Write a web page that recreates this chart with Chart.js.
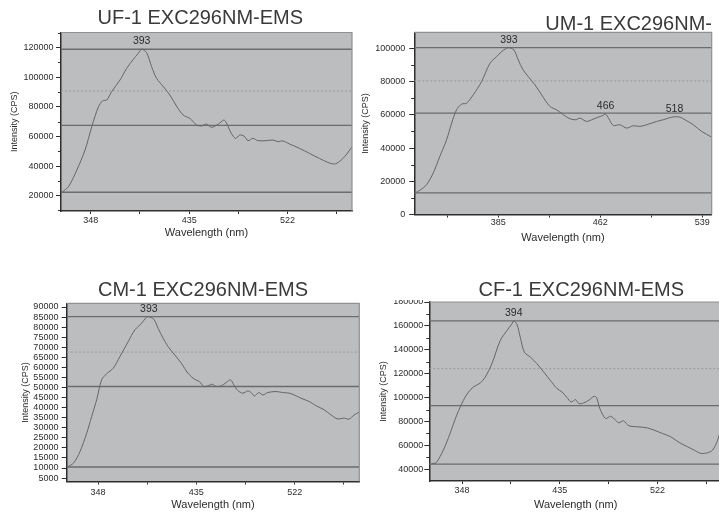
<!DOCTYPE html>
<html>
<head>
<meta charset="utf-8">
<script src="https://cdn.jsdelivr.net/npm/chart.js@4.4.1/dist/chart.umd.min.js"></script>
<style>
  html, body { margin: 0; padding: 0; background: #ffffff; overflow: hidden; }
  body { width: 719px; height: 512px; position: relative; }
  .panel { position: absolute; }
  canvas { display: block; }
</style>
</head>
<body>
<div class="panel" style="left:0px;top:0px"><canvas id="uf1" width="360" height="256"></canvas></div>
<div class="panel" style="left:360px;top:0px"><canvas id="um1" width="359" height="256"></canvas></div>
<div class="panel" style="left:0px;top:256px"><canvas id="cm1" width="360" height="256"></canvas></div>
<div class="panel" style="left:360px;top:256px"><canvas id="cf1" width="362" height="256"></canvas></div>
<script>
// ---- Emission spectra, excitation 296 nm ----
const uf1Title = 'UF-1 EXC296NM-EMS';
const uf1Wavelength = [322.4, 328.3, 335.7, 343, 348.9, 354.8, 358.6, 362.1, 366.5, 373.9, 379.7, 385.6, 390, 393, 397.4, 401.8, 406.2, 412.1, 418, 423.8, 429.7, 435.6, 441.5, 445.9, 450.3, 454.7, 460.6, 465.6, 467.9, 472.3, 476.1, 479.7, 483.5, 487, 491.4, 495.8, 503.2, 509.1, 513.5, 517.9, 523.8, 532.6, 541.4, 550.2, 557.6, 563.4, 567.8, 573.7, 579];
const uf1Intensity = [22300, 26100, 37350, 50900, 66600, 80100, 84200, 84600, 90300, 98200, 106000, 112100, 116200, 119000, 116600, 107200, 99300, 93700, 88000, 80600, 74500, 72300, 67800, 67100, 68400, 66200, 68200, 71100, 69300, 62100, 58700, 61000, 60300, 57200, 58700, 57200, 57200, 57600, 56500, 57000, 54900, 52000, 48600, 45200, 42500, 41400, 43000, 47500, 53100];
const uf1Peaks = [393];
const uf1SolidLevels = [119000, 67500, 22300];
const uf1DottedLevels = [90800];

const um1Title = 'UM-1 EXC296NM-';
const um1Wavelength = [322.1, 325.9, 330.9, 335.9, 340.9, 346, 349.8, 353.5, 357.3, 361.1, 366.1, 372.4, 378.7, 383.7, 387.5, 391.3, 393, 396.8, 400.1, 403.4, 407.6, 412.7, 417.7, 424, 429, 434.1, 439.1, 443.6, 446.6, 451.7, 456.7, 460.5, 463.5, 466, 468.5, 471.8, 476.8, 481.9, 486.9, 491.9, 497, 504.5, 509.5, 513.5, 518, 522.1, 525.9, 532.2, 538.5, 546];
const um1Intensity = [13000, 14600, 18000, 25000, 35000, 45000, 55000, 63000, 66400, 67000, 72000, 80000, 91000, 95000, 98000, 100000, 100400, 99000, 93000, 87400, 83000, 78000, 72000, 65000, 63000, 60000, 57600, 57000, 58000, 56000, 57400, 58600, 59400, 60400, 57600, 53600, 54000, 52000, 53400, 53000, 54000, 56000, 57000, 58000, 58800, 58600, 57000, 54000, 50000, 46600];
const um1Peaks = [393, 466, 518];
const um1SolidLevels = [100400, 61000, 13000];
const um1DottedLevels = [80400];

const cm1Title = 'CM-1 EXC296NM-EMS';
const cm1Wavelength = [320.8, 326.3, 332.1, 338, 342.4, 346.8, 351.2, 355.6, 361.5, 367.4, 374.7, 380.6, 386.5, 390.9, 393, 397.4, 401.2, 405.6, 410, 415.9, 421.8, 427.6, 433.5, 437.9, 441.5, 445.3, 449.1, 452.6, 457, 461.5, 465.3, 468.2, 471.7, 476.1, 480.6, 483.5, 486.4, 490.3, 493.8, 498.2, 505.5, 511.4, 517.3, 521.7, 527.6, 535, 540.8, 548.2, 554.1, 560, 565.8, 570.2, 574.6, 579];
const cm1Intensity = [10500, 12400, 18200, 27300, 35600, 43900, 53800, 56800, 59600, 65400, 72800, 78600, 81900, 84900, 85200, 83900, 79400, 74500, 70300, 66200, 62000, 57100, 54100, 52900, 50500, 50800, 51600, 50500, 50800, 52500, 53800, 51300, 48500, 47200, 48300, 47500, 45800, 47500, 46300, 47500, 48000, 47500, 47200, 46300, 44700, 43000, 41000, 38900, 36400, 34400, 34800, 34300, 36400, 37700];
const cm1Peaks = [393];
const cm1SolidLevels = [85200, 50500, 10500];
const cm1DottedLevels = [67600];

const cf1Title = 'CF-1 EXC296NM-EMS';
const cf1Wavelength = [320.9, 324.8, 331.3, 337.3, 343.2, 349.2, 353.7, 358.1, 364.1, 368.6, 374.5, 382, 387.9, 392.4, 394, 396.9, 399.8, 403.4, 408.8, 414.7, 420.7, 426.6, 432.6, 437.1, 441.5, 445.1, 449, 452, 456.4, 460.9, 465.4, 467.8, 470.7, 475.8, 480.3, 484.7, 487.7, 491.6, 496.7, 504.1, 513, 519, 526.4, 533.9, 541.3, 548.8, 554.7, 560.7, 566.7, 571.1, 575.6, 579.5];
const cf1Intensity = [45000, 45500, 56100, 70000, 85300, 97800, 104700, 108900, 112200, 117200, 128300, 147800, 156100, 161700, 164200, 161100, 150600, 138100, 133900, 128300, 121400, 114400, 107500, 104700, 100000, 96400, 98300, 95000, 95600, 97800, 101100, 100000, 90800, 82500, 84400, 81100, 78900, 80600, 76400, 75600, 74700, 72800, 70000, 67200, 62500, 58900, 56100, 53300, 53900, 56100, 64400, 78000];
const cf1Peaks = [394];
const cf1SolidLevels = [164200, 93300, 44400];
const cf1DottedLevels = [124200];

// ---- Axis ticks ----
const wavelengthTicksA = [348, 391.5, 435, 478.5, 522, 565.5];
const wavelengthLabelsA = [348, 435, 522];
const wavelengthTicksB = [346.5, 385, 423.5, 462, 500.5, 539];
const wavelengthLabelsB = [385, 462, 539];

const uf1CountTicks = [10000, 20000, 30000, 40000, 50000, 60000, 70000, 80000, 90000, 100000, 110000, 120000, 130000];
const uf1CountLabels = [20000, 40000, 60000, 80000, 100000, 120000];
const um1CountTicks = [0, 10000, 20000, 30000, 40000, 50000, 60000, 70000, 80000, 90000, 100000];
const um1CountLabels = [0, 20000, 40000, 60000, 80000, 100000];
const cm1CountTicks = [5000, 10000, 15000, 20000, 25000, 30000, 35000, 40000, 45000, 50000, 55000, 60000, 65000, 70000, 75000, 80000, 85000, 90000];
const cm1CountLabels = cm1CountTicks;
const cf1CountTicks = [40000, 50000, 60000, 70000, 80000, 90000, 100000, 110000, 120000, 130000, 140000, 150000, 160000, 170000, 180000];
const cf1CountLabels = [40000, 60000, 80000, 100000, 120000, 140000, 160000, 180000];

// ---- Styling ----
const FONT = '"Liberation Sans", Arial, Helvetica, sans-serif';
const TEXT = '#2c2c2c';
const AXIS = '#2e2e2e';
const PLOT_BG = '#bbbdbf';
const CURVE = '#666666';
const LEVEL = '#6c6c6c';
const DOTTED = '#9a9a9a';

const panelSpecs = [
  { canvas: 'uf1', title: uf1Title, wave: uf1Wavelength, counts: uf1Intensity, peaks: uf1Peaks,
    solid: uf1SolidLevels, dotted: uf1DottedLevels,
    xRange: [321.7, 579], xTicks: wavelengthTicksA, xLabels: wavelengthLabelsA,
    yRange: [9660, 130270], yTicks: uf1CountTicks, yLabels: uf1CountLabels,
    area: { left: 61, right: 8, top: 32.5, bottom: 45 },
    titleAt: { x: 200.3, y: 18, align: 'center' },
    yTitlePad: 9.6, yTickPad: 2.5, xTitlePad: 16.4, xTickPad: 1.3 },
  { canvas: 'um1', title: um1Title, wave: um1Wavelength, counts: um1Intensity, peaks: um1Peaks,
    solid: um1SolidLevels, dotted: um1DottedLevels,
    xRange: [321.6, 546.1], xTicks: wavelengthTicksB, xLabels: wavelengthLabelsB,
    yRange: [0, 109630], yTicks: um1CountTicks, yLabels: um1CountLabels,
    area: { left: 54.3, right: 7.3, top: 32.3, bottom: 41.5 },
    titleAt: { x: 352, y: 24.5, align: 'right' },
    yTitlePad: 0.1, yTickPad: 4, xTitlePad: 11.7, xTickPad: 0 },
  { canvas: 'cm1', title: cm1Title, wave: cm1Wavelength, counts: cm1Intensity, peaks: cm1Peaks,
    solid: cm1SolidLevels, dotted: cm1DottedLevels,
    xRange: [320.3, 579.2], xTicks: wavelengthTicksA, xLabels: wavelengthLabelsA,
    yRange: [3300, 91840], yTicks: cm1CountTicks, yLabels: cm1CountLabels,
    area: { left: 66.7, right: 0.7, top: 47.3, bottom: 30.5 },
    titleAt: { x: 203, y: 34.8, align: 'center' },
    yTitlePad: 20.4, yTickPad: 3.3, xTitlePad: 0, xTickPad: 2.6 },
  { canvas: 'cf1', title: cf1Title, wave: cf1Wavelength, counts: cf1Intensity, peaks: cf1Peaks,
    solid: cf1SolidLevels, dotted: cf1DottedLevels,
    xRange: [318.8, 579.5], xTicks: wavelengthTicksA, xLabels: wavelengthLabelsA,
    yRange: [30250, 180000], yTicks: cf1CountTicks, yLabels: cf1CountLabels,
    area: { left: 69.3, right: 0, top: 46, bottom: 31 },
    titleAt: { x: 221.3, y: 34.8, align: 'center' },
    yTitlePad: 18.4, yTickPad: 1, xTitlePad: 0, xTickPad: 1.4, maskAbove: 44 }
];

// Grey plot background behind the data
const plotBackground = {
  id: 'plotBackground',
  beforeDraw(chart) {
    const { ctx, chartArea: a } = chart;
    ctx.save();
    ctx.fillStyle = PLOT_BG;
    ctx.fillRect(a.left, a.top, a.right - a.left, a.bottom - a.top);
    ctx.restore();
  }
};

// Light frame on the top and right sides of the plot
const plotFrame = {
  id: 'plotFrame',
  afterDatasetsDraw(chart) {
    const { ctx, chartArea: a } = chart;
    ctx.save();
    ctx.strokeStyle = '#8e9092';
    ctx.lineWidth = 1.2;
    ctx.beginPath();
    ctx.moveTo(a.left, a.top);
    ctx.lineTo(a.right, a.top);
    ctx.lineTo(a.right, a.bottom);
    ctx.stroke();
    ctx.restore();
  }
};

// Short unlabelled ticks between the labelled intensity ticks
const minorCountTicks = {
  id: 'minorCountTicks',
  afterDraw(chart, args, opts) {
    const { ctx, scales: { y } } = chart;
    ctx.save();
    ctx.strokeStyle = AXIS;
    ctx.lineWidth = 1;
    ctx.beginPath();
    opts.values.forEach(v => {
      if (v < y.min || v > y.max) return;
      const py = Math.round(y.getPixelForValue(v)) + 0.5;
      ctx.moveTo(y.right - 3, py);
      ctx.lineTo(y.right, py);
    });
    ctx.stroke();
    ctx.restore();
  }
};

// Wavelength labels above the emission maxima
const peakLabels = {
  id: 'peakLabels',
  afterDatasetsDraw(chart, args, opts) {
    const { ctx, scales: { x, y } } = chart;
    ctx.save();
    ctx.font = '10.5px ' + FONT;
    ctx.fillStyle = TEXT;
    ctx.textAlign = 'center';
    ctx.textBaseline = 'middle';
    opts.peaks.forEach(w => {
      const i = opts.wave.indexOf(w);
      if (i < 0) return;
      const px = x.getPixelForValue(w);
      const py = y.getPixelForValue(opts.counts[i]);
      ctx.fillText(String(w), px, py - 8);
    });
    ctx.restore();
  }
};

// Panel heading
const panelHeading = {
  id: 'panelHeading',
  afterDraw(chart, args, opts) {
    const { ctx } = chart;
    ctx.save();
    if (opts.maskAbove) {
      ctx.clearRect(0, 0, chart.chartArea.left, opts.maskAbove);
    }
    ctx.font = '20px ' + FONT;
    ctx.fillStyle = '#3a3a3a';
    ctx.textAlign = opts.align;
    ctx.textBaseline = 'middle';
    ctx.fillText(opts.text, opts.x, opts.y);
    ctx.restore();
  }
};

function levelDataset(value, range, dashed) {
  return {
    data: [{ x: range[0], y: value }, { x: range[1], y: value }],
    borderColor: dashed ? DOTTED : LEVEL,
    borderWidth: dashed ? 1 : 1.4,
    borderDash: dashed ? [2, 2] : [],
    pointRadius: 0,
    tension: 0
  };
}

panelSpecs.forEach(p => {
  const curve = p.wave.map((w, i) => ({ x: w, y: p.counts[i] }));
  const datasets = [{
    data: curve,
    borderColor: CURVE,
    borderWidth: 1,
    pointRadius: 0,
    tension: 0.3
  }];
  p.solid.forEach(v => datasets.push(levelDataset(v, p.xRange, false)));
  p.dotted.forEach(v => datasets.push(levelDataset(v, p.xRange, true)));

  const minorValues = p.yTicks.filter(v => !p.yLabels.includes(v));

  new Chart(document.getElementById(p.canvas), {
    type: 'line',
    data: { datasets },
    plugins: [plotBackground, plotFrame, minorCountTicks, peakLabels, panelHeading],
    options: {
      responsive: false,
      animation: false,
      devicePixelRatio: 1,
      layout: { padding: { left: 0, right: p.area.right, top: p.area.top, bottom: 0 } },
      plugins: {
        legend: { display: false },
        tooltip: { enabled: false },
        title: { display: false },
        minorCountTicks: { values: minorValues },
        peakLabels: { peaks: p.peaks, wave: p.wave, counts: p.counts },
        panelHeading: { text: p.title, x: p.titleAt.x, y: p.titleAt.y, align: p.titleAt.align, maskAbove: p.maskAbove || 0 }
      },
      scales: {
        x: {
          type: 'linear',
          min: p.xRange[0],
          max: p.xRange[1],
          afterBuildTicks: s => { s.ticks = p.xTicks.map(v => ({ value: v })); },
          afterFit: s => { s.height = p.area.bottom; },
          grid: { drawOnChartArea: false, drawTicks: true, tickLength: 3, tickColor: AXIS, tickWidth: 1 },
          border: { display: true, color: AXIS, width: 1.5 },
          ticks: {
            autoSkip: false, maxRotation: 0, minRotation: 0,
            padding: p.xTickPad, color: TEXT,
            font: { family: FONT, size: 9 },
            callback: v => (p.xLabels.includes(v) ? String(v) : '')
          },
          title: {
            display: true, text: 'Wavelength (nm)', color: TEXT,
            font: { family: FONT, size: 11 },
            padding: { top: 0, bottom: p.xTitlePad }
          }
        },
        y: {
          type: 'linear',
          min: p.yRange[0],
          max: p.yRange[1],
          afterBuildTicks: s => { s.ticks = p.yLabels.map(v => ({ value: v })); },
          afterFit: s => { s.width = p.area.left; },
          grid: { drawOnChartArea: false, drawTicks: true, tickLength: 5, tickColor: AXIS, tickWidth: 1 },
          border: { display: true, color: AXIS, width: 1.5 },
          ticks: {
            autoSkip: false,
            padding: p.yTickPad, color: TEXT,
            font: { family: FONT, size: 9 },
            callback: v => String(v)
          },
          title: {
            display: true, text: 'Intensity (CPS)', color: TEXT,
            font: { family: FONT, size: 9 },
            padding: { top: p.yTitlePad, bottom: 0 }
          }
        }
      }
    }
  });
});
</script>
</body>
</html>
